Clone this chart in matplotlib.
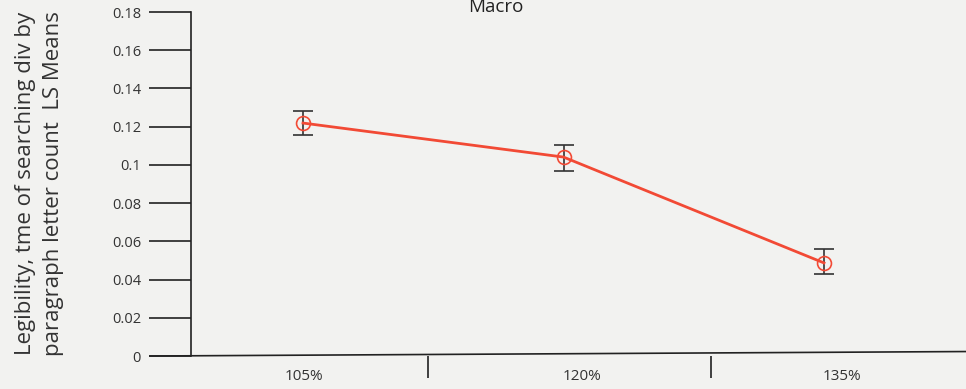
import matplotlib.pyplot as plt
from matplotlib.lines import Line2D

plt.rcParams['font.family'] = ['Open Sans', 'DejaVu Sans']

sizes = ['105%', '120%', '135%']
ls_means = [0.1219, 0.1041, 0.0487]
err_upper = [0.1280, 0.1104, 0.0560]
err_lower = [0.1156, 0.0968, 0.0429]

yticks = [0, 0.02, 0.04, 0.06, 0.08, 0.1, 0.12, 0.14, 0.16, 0.18]
ytick_labels = ['0', '0.02', '0.04', '0.06', '0.08', '0.1', '0.12', '0.14', '0.16', '0.18']

bg = '#f2f2f0'
fig = plt.figure(figsize=(9.66, 3.89), dpi=100, facecolor=bg)
ax = fig.add_axes([0.1977, 0.0848, 0.8023, 0.8843], facecolor=bg)

x = list(range(len(sizes)))
yerr = [[m - lo for m, lo in zip(ls_means, err_lower)],
        [hi - m for m, hi in zip(ls_means, err_upper)]]

ax.errorbar(x, ls_means, yerr=yerr, fmt='none', ecolor='#333333',
            elinewidth=1.2, capsize=7, capthick=1.2, zorder=2)
ax.plot(x, ls_means, color='#f24a35', lw=2, zorder=3)
ax.plot(x, ls_means, 'o', mfc='none', mec='#f24a35', ms=10, mew=1.2, zorder=4)

ax.set_xlim(-0.43, 2.545)
ax.set_ylim(0, 0.18)

for s in ['top', 'right', 'bottom']:
    ax.spines[s].set_visible(False)
ax.spines['left'].set_color('#222222')
ax.spines['left'].set_linewidth(1.2)

# slightly slanted baseline running under the y ticks
ax.add_line(Line2D([-0.053, 1.0], [0.0, 0.013], transform=ax.transAxes,
                   color='#222222', lw=1.2, clip_on=False))

ax.set_yticks(yticks)
ax.set_yticklabels(ytick_labels, fontsize=10.5, color='#333333')
ax.tick_params(axis='y', length=30, width=1.2, color='#222222', pad=6)

# category labels centred under each point, separators between them
ax.set_xticks([0.004, 1.07, 2.07])
ax.set_xticklabels(sizes, fontsize=11, color='#333333')
ax.tick_params(axis='x', which='major', length=0, pad=9)
ax.set_xticks([0.48, 1.566], minor=True)
ax.tick_params(axis='x', which='minor', length=16, width=1.2, color='#222222')

fig.text(0.041, 0.528, 'Legibility, tme of searching div by\nparagraph letter count  LS Means',
         rotation=90, ha='center', va='center', fontsize=16, color='#333333',
         linespacing=1.4)
fig.text(0.513, 0.982, 'Macro', ha='center', va='center', fontsize=13.5, color='#222222')

fig.savefig('out.png', dpi=100, facecolor=bg)
